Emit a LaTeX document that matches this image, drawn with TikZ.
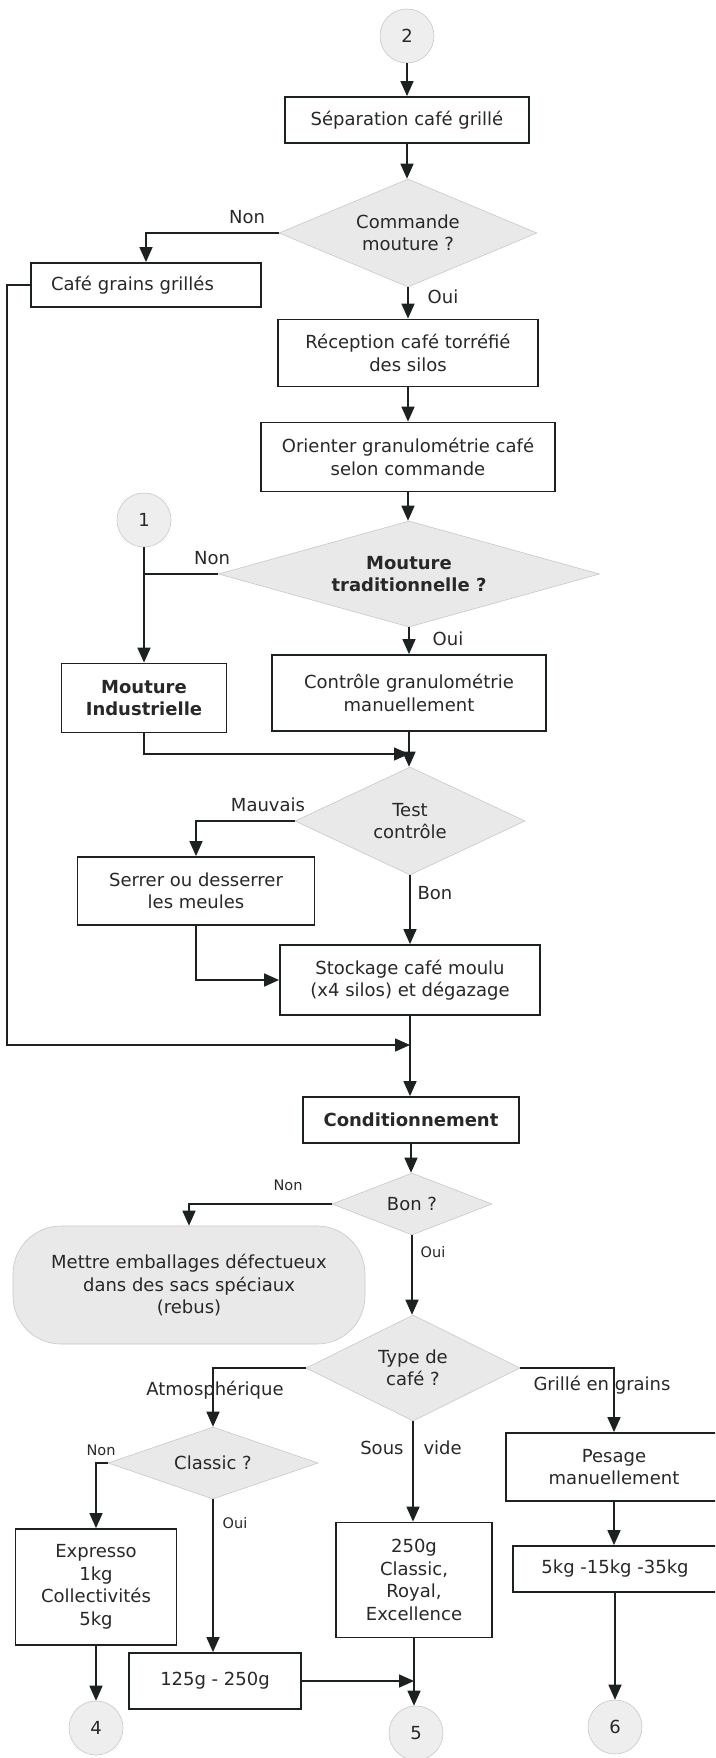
\documentclass[tikz,border=0pt]{standalone}
\usepackage{fontspec}
\setmainfont{DejaVu Sans}
\usetikzlibrary{shapes.geometric,arrows.meta}

\definecolor{ink}{RGB}{28,34,34}
\definecolor{txt}{RGB}{40,40,40}
\definecolor{shade}{RGB}{233,233,233}
\definecolor{rim}{RGB}{200,200,200}

\tikzset{
  base/.style={font=\fontsize{18}{22.5}\selectfont, text=txt, align=center, inner sep=0pt},
  bold/.style={font=\fontsize{18}{22.5}\selectfont\bfseries},
  stepbox/.style={base, rectangle, draw=ink, line width=1.8pt, fill=white},
  decision/.style={base, diamond, fill=shade, draw=rim, line width=0.6pt},
  connector/.style={base, circle, fill=shade!75, draw=rim, line width=0.6pt, minimum size=54pt},
  terminal/.style={base, rectangle, rounded corners=48pt, fill=shade, draw=rim, line width=0.6pt},
  flow/.style={draw=ink, line width=1.5pt, -{Triangle[length=15pt,width=13pt]}},
  link/.style={draw=ink, line width=1.5pt},
  lbl/.style={base},
  smalllbl/.style={base, font=\fontsize{14.5}{17}\selectfont},
}

\begin{document}
\begin{tikzpicture}[x=1pt,y=-1pt]
  \useasboundingbox (0,0) rectangle (715,1758);
  \clip (0,0) rectangle (715,1758);
  \fill[white] (0,0) rectangle (715,1758);

  % ---- grinding section ----
  \node[connector] (c2) at (407,36) {2};
  \node[stepbox, minimum width=244pt, minimum height=46pt] (sep) at (407,120) {Séparation café grillé};
  \node[decision, aspect=2.4, minimum width=258pt, minimum height=108pt] (d1) at (408,233) {Commande\\mouture ?};
  \node[stepbox, minimum width=230pt, minimum height=44pt, text width=190pt, align=left, inner xsep=20pt] (grains) at (146,285) {Café grains grillés};
  \node[stepbox, minimum width=260pt, minimum height=67pt] (recep) at (408,353) {Réception café torréfié\\des silos};
  \node[stepbox, minimum width=294pt, minimum height=69pt] (orient) at (408,457) {Orienter granulométrie café\\selon commande};
  \node[connector] (c1) at (144,520) {1};
  \node[decision, bold, aspect=3.6, minimum width=381pt, minimum height=106pt] (d2) at (409,574) {Mouture\\traditionnelle ?};
  \node[stepbox, bold, minimum width=165pt, minimum height=69pt] (indus) at (144,698) {Mouture\\Industrielle};
  \node[stepbox, minimum width=274pt, minimum height=76pt] (ctrl) at (409,693) {Contrôle granulométrie\\manuellement};
  \node[decision, aspect=2.13, minimum width=230pt, minimum height=108pt] (d3) at (410,821) {Test\\contrôle};
  \node[stepbox, minimum width=237pt, minimum height=68pt] (serrer) at (196,891) {Serrer ou desserrer\\les meules};
  \node[stepbox, minimum width=260pt, minimum height=70pt] (stock) at (410,980) {Stockage café moulu\\(x4 silos) et dégazage};

  % ---- packaging section ----
  \node[stepbox, bold, minimum width=216pt, minimum height=46pt] (cond) at (411,1120) {Conditionnement};
  \node[decision, aspect=2.58, minimum width=160pt, minimum height=62pt] (d4) at (412,1204) {Bon ?};
  \node[terminal, minimum width=352pt, minimum height=118pt] (rebus) at (189,1285) {Mettre emballages défectueux\\dans des sacs spéciaux\\(rebus)};
  \node[decision, aspect=2.0, minimum width=214pt, minimum height=106pt] (d5) at (413,1368) {Type de\\café ?};
  \node[decision, aspect=2.9, minimum width=210pt, minimum height=72pt] (d6) at (213,1463) {Classic ?};
  \node[stepbox, minimum width=216pt, minimum height=68pt] (pesage) at (614,1467) {Pesage\\manuellement};
  \node[stepbox, minimum width=161pt, minimum height=116pt] (expr) at (96,1587) {Expresso\\1kg\\Collectivités\\5kg};
  \node[stepbox, minimum width=156pt, minimum height=115pt] (g250) at (414,1580) {250g\\Classic,\\Royal,\\Excellence};
  \node[stepbox, minimum width=204pt, minimum height=46pt] (kg5) at (615,1569) {5kg -15kg -35kg};
  \node[stepbox, minimum width=172pt, minimum height=56pt] (g125) at (215,1681) {125g - 250g};
  \node[connector] (c4) at (96,1728) {4};
  \node[connector] (c5) at (416,1733) {5};
  \node[connector] (c6) at (615,1727) {6};

  % ---- junction points ----
  \coordinate (m1) at (409,754);
  \coordinate (m2) at (410,1045);
  \coordinate (rail) at (7,1045);

  % ---- connectors ----
  \draw[flow] (c2.south) -- (c2.south |- sep.north);
  \draw[flow] (sep.south) -- (sep.south |- d1.north);
  \draw[flow] (d1.west) -| (grains.north);
  \draw[flow] (d1.south) -- (d1.south |- recep.north);
  \draw[flow] (recep) -- (orient);
  \draw[flow] (orient.south) -- (orient.south |- d2.north);
  \draw[flow] (c1) -- (indus);
  \draw[link] (d2.west) -- (d2.west -| indus.north);
  \draw[flow] (d2) -- (ctrl);
  \draw[flow] (ctrl.south) -- (ctrl.south |- d3.north);
  \draw[flow] (indus.south) |- (m1);
  \draw[flow] (d3.west) -| (serrer.north);
  \draw[flow] (d3) -- (stock);
  \draw[flow] (serrer.south) |- (stock.west);
  \draw[flow] (grains.west) -| (rail) -- (m2);
  \draw[flow] (stock.south) -- (stock.south |- cond.north);
  \draw[flow] (cond.south) -- (cond.south |- d4.north);
  \draw[flow] (d4.west) -| (rebus.north);
  \draw[flow] (d4.south) -- (d4.south |- d5.north);
  \draw[flow] (d5.west) -| (d6.north);
  \draw[flow] (d5.east) -| (pesage.north);
  \draw[flow] (d5.south) -- (d5.south |- g250.north);
  \draw[flow] (d6.west) -| (expr.north);
  \draw[flow] (d6.south) -- (d6.south |- g125.north);
  \draw[flow] (pesage.south) -- (pesage.south |- kg5.north);
  \draw[flow] (kg5) -- (c6);
  \draw[flow] (expr) -- (c4);
  \draw[flow] (g250.south) -- (g250.south |- c5.north);
  \coordinate (m3) at (g250.south |- g125.east);
  \draw[flow] (g125.east) -- (m3);

  % ---- branch labels ----
  \node[lbl] (nonA) at (247,217) {Non};
  \node[lbl] (ouiA) at (443,297) {Oui};
  \node[lbl] (nonB) at (212,558) {Non};
  \node[lbl] (ouiB) at (448,639) {Oui};
  \node[lbl] (mauv) at (268,805) {Mauvais};
  \node[lbl] (bon) at (435,893) {Bon};
  \node[smalllbl] (nonC) at (288,1185) {Non};
  \node[smalllbl] (ouiC) at (433,1252) {Oui};
  \node[lbl] (atmo) at (215,1390) {Atmosphérique};
  \node[lbl] (grill) at (602,1385) {Grillé en grains};
  \node[lbl] (sousvide) at (411,1448) {Sous\hspace{20pt}vide};
  \node[smalllbl] (nonD) at (101,1450) {Non};
  \node[smalllbl] (ouiD) at (235,1523) {Oui};
\end{tikzpicture}
\end{document}
